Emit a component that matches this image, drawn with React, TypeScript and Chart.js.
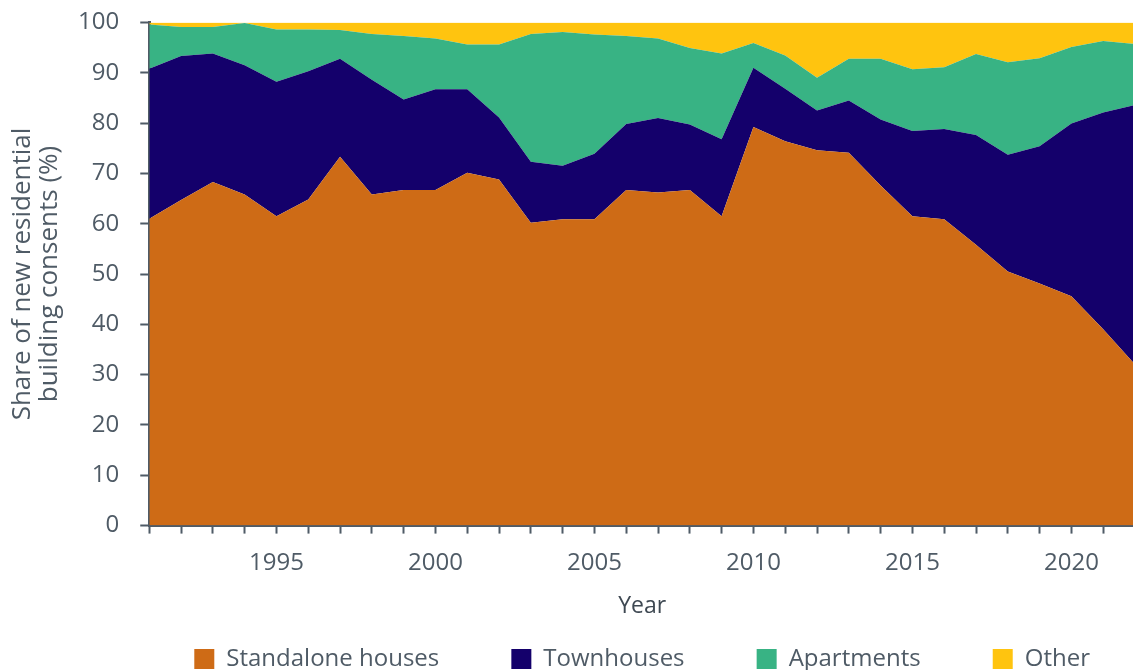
import React, { useEffect, useRef } from "react";
import { Chart, registerables } from "chart.js";

Chart.register(...registerables);

const years = [
  1991, 1992, 1993, 1994, 1995, 1996, 1997, 1998, 1999, 2000, 2001, 2002, 2003, 2004, 2005, 2006,
  2007, 2008, 2009, 2010, 2011, 2012, 2013, 2014, 2015, 2016, 2017, 2018, 2019, 2020, 2021, 2022,
];

const standalone = [
  61.0, 64.7, 68.3, 65.8, 61.5, 64.8, 73.3, 65.8, 66.7, 66.7, 70.1, 68.8, 60.2, 60.9, 60.9, 66.7,
  66.2, 66.7, 61.5, 79.2, 76.4, 74.6, 74.1, 67.6, 61.5, 60.9, 55.8, 50.5, 48.1, 45.6, 39.0, 32.0,
];
const townhouses = [
  29.8, 28.6, 25.5, 25.7, 26.7, 25.5, 19.5, 22.8, 18.0, 20.0, 16.6, 12.3, 12.1, 10.6, 13.0, 13.1,
  14.8, 13.0, 15.3, 11.8, 10.4, 7.9, 10.4, 13.1, 16.9, 17.9, 21.8, 23.2, 27.3, 34.3, 43.1, 51.6,
];
const apartments = [
  8.8, 5.8, 5.3, 8.4, 10.4, 8.3, 5.7, 9.1, 12.6, 10.1, 8.9, 14.5, 25.4, 26.6, 23.7, 17.5,
  15.8, 15.2, 17.0, 4.9, 6.6, 6.5, 8.3, 12.1, 12.3, 12.3, 16.1, 18.4, 17.5, 15.2, 14.2, 12.1,
];
const other = [
  0.4, 0.9, 0.9, 0.1, 1.4, 1.4, 1.5, 2.3, 2.7, 3.2, 4.4, 4.4, 2.3, 1.9, 2.4, 2.7,
  3.2, 5.1, 6.2, 4.1, 6.6, 11.0, 7.2, 7.2, 9.3, 8.9, 6.3, 7.9, 7.1, 4.9, 3.7, 4.3,
];

const seriesNames = ["Standalone houses", "Townhouses", "Apartments", "Other"];
const seriesColors = ["#CE6B16", "#14006B", "#38B384", "#FFC40F"];
const yTitle = ["Share of new residential", "building consents (%)"];
const xTitle = "Year";

const axisColor = "#4F5B66";
const textColor = "#4F5B66";
const legendGap = "         ";

export default function App() {
  const ref = useRef<HTMLCanvasElement | null>(null);

  useEffect(() => {
    if (!ref.current) return;
    Chart.defaults.font.family = "'Open Sans', sans-serif";
    const values = [standalone, townhouses, apartments, other];
    const defaultLabels = Chart.defaults.plugins.legend.labels.generateLabels;
    const chart = new Chart(ref.current, {
      type: "line",
      data: {
        datasets: values.map((arr, i) => ({
          label: seriesNames[i],
          data: arr.map((v, j) => ({ x: years[j], y: v })),
          backgroundColor: seriesColors[i],
          borderColor: seriesColors[i],
          borderWidth: 0,
          pointRadius: 0,
          tension: 0,
          fill: i === 0 ? "origin" : "-1",
        })),
      },
      options: {
        animation: false,
        responsive: true,
        maintainAspectRatio: false,
        layout: { padding: { left: 5, right: 6, top: 0, bottom: 0 } },
        plugins: {
          tooltip: { enabled: false },
          legend: {
            position: "bottom",
            fullSize: false,
            labels: {
              boxWidth: 20,
              boxHeight: 20,
              padding: 16,
              color: textColor,
              font: { size: 24 },
              generateLabels: (c: any) =>
                defaultLabels(c).map((item: any, i: number, all: any[]) => ({
                  ...item,
                  lineWidth: 0,
                  text: i < all.length - 1 ? item.text + legendGap : item.text,
                })),
            },
          },
        },
        scales: {
          x: {
            type: "linear",
            min: 1991,
            max: 2022,
            border: { color: axisColor, width: 3 },
            grid: {
              drawOnChartArea: false,
              drawTicks: true,
              tickLength: 8,
              tickWidth: 2,
              color: axisColor,
            },
            ticks: {
              stepSize: 1,
              autoSkip: false,
              maxRotation: 0,
              padding: 15,
              color: textColor,
              font: { size: 24 },
              callback: (v: any) => (Number(v) % 5 === 0 ? String(v) : ""),
            },
            title: {
              display: true,
              text: xTitle,
              color: "#3E4852",
              font: { size: 23 },
              padding: { top: 0, bottom: 11 },
            },
          },
          y: {
            stacked: true,
            min: 0,
            max: 100,
            border: { color: axisColor, width: 3 },
            grid: {
              drawOnChartArea: false,
              drawTicks: true,
              tickLength: 9,
              tickWidth: 2,
              color: axisColor,
            },
            ticks: {
              stepSize: 10,
              padding: 21,
              color: textColor,
              font: { size: 24 },
            },
            title: {
              display: true,
              text: yTitle,
              color: textColor,
              font: { size: 26, lineHeight: 1.04 },
              padding: { top: 4, bottom: -6 },
            },
          },
        },
      },
    });
    return () => chart.destroy();
  }, []);

  return (
    <div
      style={{
        position: "fixed",
        left: 0,
        top: 0,
        width: 1133,
        height: 670,
        overflow: "hidden",
        background: "#fff",
      }}
    >
      <div style={{ position: "relative", top: -13, width: 1150, height: 694 }}>
        <canvas ref={ref} />
      </div>
    </div>
  );
}
